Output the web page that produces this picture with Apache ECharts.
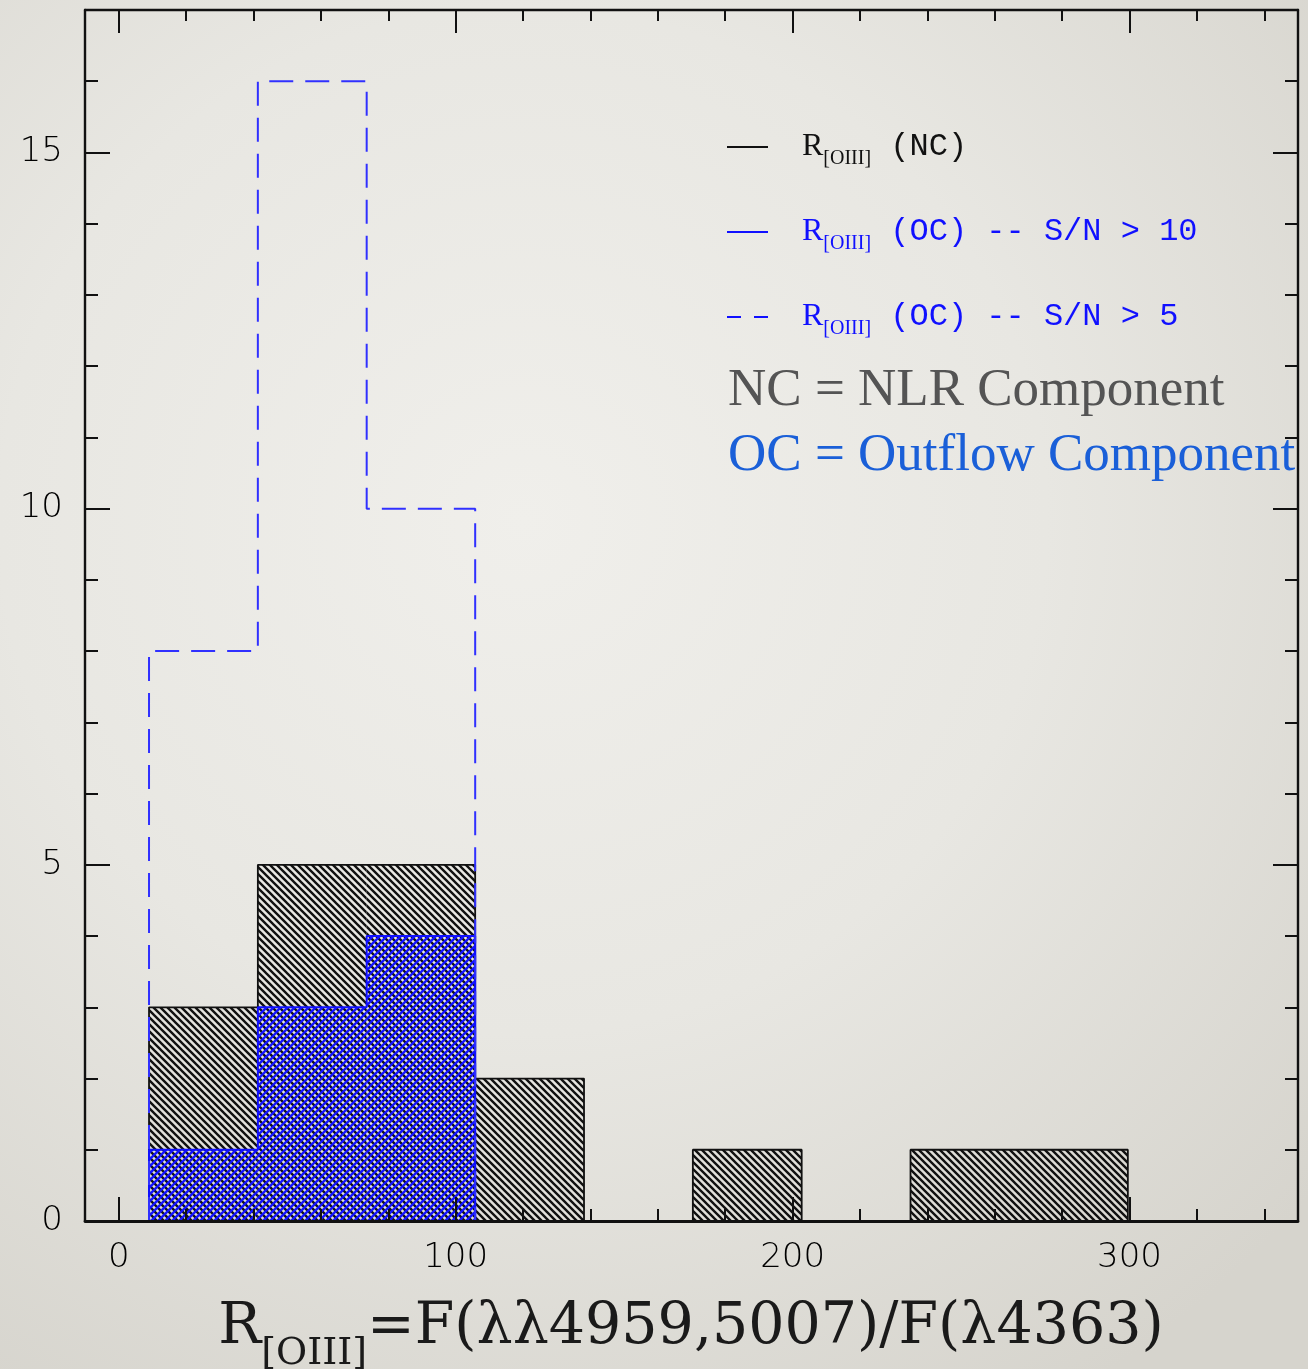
<!DOCTYPE html>
<html>
<head>
<meta charset="utf-8">
<script src="https://cdn.jsdelivr.net/npm/echarts@6/dist/echarts.min.js"></script>
<style>
  html, body { margin: 0; padding: 0; width: 1308px; height: 1369px; overflow: hidden; }
  body {
    background: radial-gradient(ellipse 80% 75% at 40% 38%, #f0efeb 0%, #e8e7e2 50%, #d6d4cd 100%);
  }
  #chart { width: 1308px; height: 1369px; }
</style>
</head>
<body>
<div id="chart"></div>
<script>
// Histogram of the [OIII] line ratio R = F(4959+5007)/F(4363)
const binEdges   = [9, 41.3, 73.6, 105.8, 138.1, 170.4, 202.7, 235.0, 267.2, 299.5];
const ncCounts   = [3, 5, 5, 2, 0, 1, 0, 1, 1];   // NLR component
const oc10Counts = [1, 3, 4];                     // outflow component, S/N > 10
const oc5Counts  = [8, 16, 10];                   // outflow component, S/N > 5

const xMajorTicks = [0, 100, 200, 300];
const xMinorTicks = [20, 40, 60, 80, 120, 140, 160, 180, 220, 240, 260, 280, 320, 340];
const yMajorTicks = [0, 5, 10, 15];
const yMinorTicks = [1, 2, 3, 4, 6, 7, 8, 9, 11, 12, 13, 14, 16];

// one [left, right, count] item per non-empty bin
function binRects(counts) {
  return counts.map((c, i) => [binEdges[i], binEdges[i + 1], c]).filter(d => d[2] > 0);
}
// histogram outline as a stepped polyline
function stepOutline(counts) {
  const pts = [[binEdges[0], 0]];
  counts.forEach((c, i) => { pts.push([binEdges[i], c]); pts.push([binEdges[i + 1], c]); });
  pts.push([binEdges[counts.length], 0]);
  return pts;
}

// diagonal hatch tile
function hatch(color, dir, period, width) {
  const cv = document.createElement('canvas');
  cv.width = period; cv.height = period;
  const ctx = cv.getContext('2d');
  ctx.strokeStyle = color; ctx.lineWidth = width; ctx.lineCap = 'square';
  ctx.beginPath();
  for (let k = -1; k <= 1; k++) {
    if (dir === 'back') { ctx.moveTo(k * period, 0); ctx.lineTo(k * period + period, period); }
    else { ctx.moveTo(k * period, period); ctx.lineTo(k * period + period, 0); }
  }
  ctx.stroke();
  return { image: cv, repeat: 'repeat' };
}
const ncPattern = hatch('#111111', 'back', 7, 2.4);
const ocPattern = hatch('#1414ff', 'fwd', 7, 2.4);

function hatchRenderer(pattern) {
  return function (params, api) {
    const p0 = api.coord([api.value(0), api.value(2)]);
    const p1 = api.coord([api.value(1), 0]);
    return {
      type: 'rect',
      shape: { x: p0[0], y: p0[1], width: p1[0] - p0[0], height: p1[1] - p0[1] },
      style: { fill: pattern },
      silent: true
    };
  };
}

const tickFont = { fontFamily: 'DejaVu Sans', fontSize: 34, fontWeight: 200, color: '#000' };
const frame = { show: true, onZero: false, lineStyle: { color: '#111', width: 2.4 } };
const noFrame = { show: false, onZero: false };
const tickStyle = { color: '#111', width: 2 };
const X_MIN = -10, X_MAX = 350, Y_MIN = 0, Y_MAX = 17;

function xAxis(pos, ticks, len, line, labels) {
  return {
    type: 'value', position: pos, min: X_MIN, max: X_MAX, z: 10,
    axisLine: line,
    axisTick: { show: true, inside: true, length: len, customValues: ticks, lineStyle: tickStyle },
    axisLabel: labels ? Object.assign({ show: true, customValues: ticks, margin: 20 }, tickFont) : { show: false },
    splitLine: { show: false }
  };
}
function yAxis(pos, ticks, len, line, labels) {
  return {
    type: 'value', position: pos, min: Y_MIN, max: Y_MAX, z: 10,
    axisLine: line,
    axisTick: { show: true, inside: true, length: len, customValues: ticks, lineStyle: tickStyle },
    axisLabel: labels ? Object.assign({ show: true, customValues: ticks, margin: 22 }, tickFont) : { show: false },
    splitLine: { show: false }
  };
}

const chart = echarts.init(document.getElementById('chart'), null, { renderer: 'canvas' });

const legendRich = {
  r: { fontFamily: 'Liberation Serif', fontSize: 32, lineHeight: 36 },
  s: { fontFamily: 'Liberation Serif', fontSize: 20, lineHeight: 24, padding: [24, 0, 0, 0] },
  t: { fontFamily: 'Liberation Mono', fontSize: 32, lineHeight: 36 }
};
function legendText(y, text, color) {
  return {
    type: 'text', x: 802, y: y, z: 20,
    style: { text: text, rich: legendRich, fill: color, align: 'left', verticalAlign: 'middle' }
  };
}

chart.setOption({
  backgroundColor: 'transparent',
  animation: false,
  grid: { left: 85, right: 10, top: 10, bottom: 148, containLabel: false },
  xAxis: [
    xAxis('bottom', xMajorTicks, 24, { show: true, onZero: false, lineStyle: { color: '#111', width: 2.8 } }, true),
    xAxis('bottom', xMinorTicks, 12, noFrame, false),
    xAxis('top', xMajorTicks, 23, frame, false),
    xAxis('top', xMinorTicks, 11, noFrame, false)
  ],
  yAxis: [
    yAxis('left', yMajorTicks, 25, frame, true),
    yAxis('left', yMinorTicks, 13, noFrame, false),
    yAxis('right', yMajorTicks, 25, frame, false),
    yAxis('right', yMinorTicks, 13, noFrame, false)
  ],
  series: [
    {
      name: 'NC', type: 'custom', z: 2, data: binRects(ncCounts),
      encode: { x: [0, 1], y: 2 }, renderItem: hatchRenderer(ncPattern)
    },
    {
      name: 'NC outline', type: 'line', z: 3, data: stepOutline(ncCounts),
      symbol: 'none', lineStyle: { color: '#111', width: 1.8 }
    },
    {
      name: 'OC S/N>10', type: 'custom', z: 4, data: binRects(oc10Counts),
      encode: { x: [0, 1], y: 2 }, renderItem: hatchRenderer(ocPattern)
    },
    {
      name: 'OC S/N>10 outline', type: 'line', z: 5, data: stepOutline(oc10Counts),
      symbol: 'none', lineStyle: { color: '#1010ff', width: 2 }
    },
    {
      name: 'OC S/N>5', type: 'line', z: 6, data: stepOutline(oc5Counts),
      symbol: 'none', lineStyle: { color: '#3030ff', width: 2, type: [24, 12] }
    }
  ],
  graphic: [
    // legend keys
    { type: 'line', z: 20, shape: { x1: 727, y1: 147, x2: 768, y2: 147 }, style: { stroke: '#111', lineWidth: 2 } },
    { type: 'line', z: 20, shape: { x1: 727, y1: 232, x2: 768, y2: 232 }, style: { stroke: '#1010ff', lineWidth: 2 } },
    { type: 'line', z: 20, shape: { x1: 727, y1: 317, x2: 768, y2: 317 }, style: { stroke: '#1010ff', lineWidth: 2, lineDash: [14, 13] } },
    legendText(147, '{r|R}{s|[OIII]}{t| (NC)}', '#111'),
    legendText(232, '{r|R}{s|[OIII]}{t| (OC) -- S/N > 10}', '#1010ff'),
    legendText(317, '{r|R}{s|[OIII]}{t| (OC) -- S/N > 5}', '#1010ff'),
    // component key
    {
      type: 'text', x: 728, y: 391, z: 20,
      style: { text: 'NC = NLR Component', fill: '#545454', font: '53px "Liberation Serif"', align: 'left', verticalAlign: 'middle' }
    },
    {
      type: 'text', x: 728, y: 456, z: 20,
      style: { text: 'OC = Outflow Component', fill: '#1a5fd8', font: '53px "Liberation Serif"', align: 'left', verticalAlign: 'middle' }
    },
    // x-axis title
    {
      type: 'text', x: 691, y: 1328, z: 20,
      style: {
        text: '{r|R}{s|[OIII]}{m|=F(λλ4959,5007)/F(λ4363)}',
        fill: '#1a1a1a', align: 'center', verticalAlign: 'middle',
        rich: {
          r: { fontFamily: 'DejaVu Serif', fontSize: 57, lineHeight: 70 },
          s: { fontFamily: 'DejaVu Serif', fontSize: 38, lineHeight: 40, padding: [52, 0, 0, 0] },
          m: { fontFamily: 'DejaVu Serif', fontSize: 57, lineHeight: 70 }
        }
      }
    }
  ]
});
</script>
</body>
</html>
